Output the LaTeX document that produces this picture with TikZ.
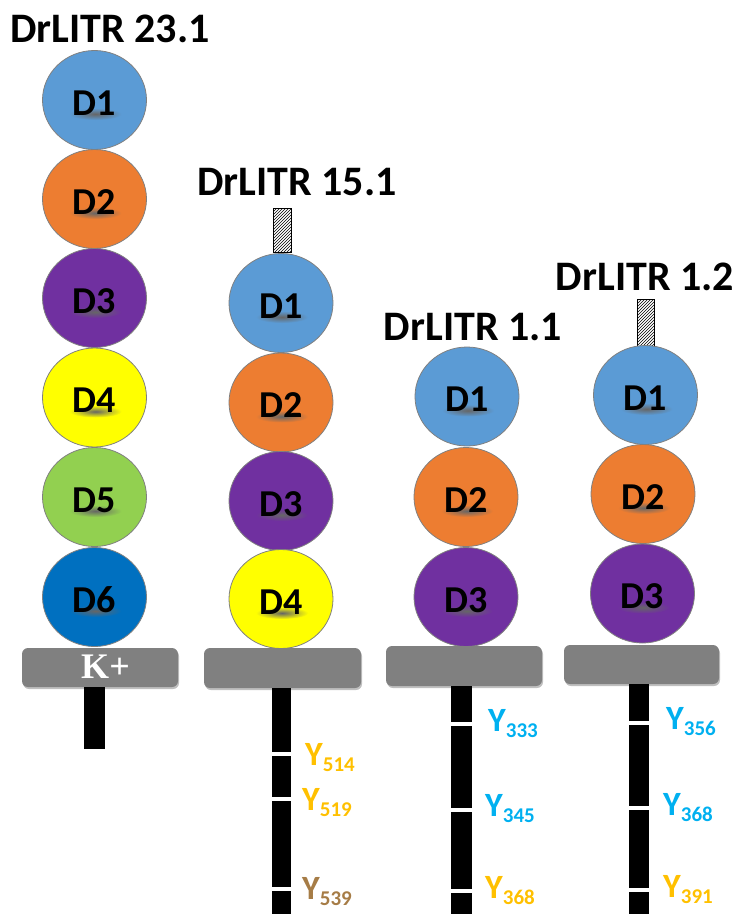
\documentclass[tikz,border=0pt]{standalone}
\usepackage{fontspec}
\setmainfont{Carlito}
\newfontfamily\kfont{Liberation Serif}
\usetikzlibrary{shapes.geometric,patterns,shadows}
\definecolor{cDa}{HTML}{5B9BD5}
\definecolor{cDb}{HTML}{ED7D31}
\definecolor{cDc}{HTML}{7030A0}
\definecolor{cDd}{HTML}{FFFF00}
\definecolor{cDe}{HTML}{92D050}
\definecolor{cDf}{HTML}{0070C0}
\definecolor{memgray}{HTML}{808080}
\definecolor{ylblue}{HTML}{00B0F0}
\definecolor{ylgold}{HTML}{FFC000}
\definecolor{ylbrown}{HTML}{A67C46}
\newcommand{\ylab}[2]{{\fontsize{34}{34}\selectfont Y}{\fontsize{21}{21}\selectfont\raisebox{-6.5pt}{#2}}}
\tikzset{
  dom/.style={ellipse, draw=black!50, line width=0.8pt, minimum width=104pt, minimum height=99pt,
    inner sep=0pt},
  domtext/.style={inner sep=0pt, text depth=0pt, font=\fontsize{38}{38}\selectfont\bfseries},
  ttl/.style={anchor=base, inner sep=0pt, font=\fontsize{42}{42}\selectfont\bfseries},
  membrane/.style={rounded corners=6pt, fill=memgray, inner sep=0pt,
    drop shadow={fill=black, opacity=0.25, shadow xshift=1pt, shadow yshift=-2pt}},
  tailbar/.style={fill=black, inner sep=0pt, anchor=north},
  stubbox/.style={draw=black, line width=0.7pt, pattern=north east lines, inner sep=0pt},
  ylabel/.style={anchor=base west, inner sep=0pt, font=\bfseries},
  gapline/.style={fill=white}
}
\newcommand{\domain}[5]{%
  \node[dom, fill=#4] (#1) at (#2,#3) {};
  \shade[inner color=black!60, outer color=#4] ([xshift=1pt,yshift=-14pt]#1.center) ellipse (26pt and 6pt);
  \node[domtext] (#1t) at ([yshift=-3pt]#1.center) {#5};
}
\begin{document}
\begin{tikzpicture}[x=1pt,y=-1pt]
\useasboundingbox (0,0) rectangle (738,914);
% ---------- DrLITR 23.1 ----------
\node[ttl] (t1) at (110,42) {DrLITR 23.1};
\domain{a1}{94.5}{100}{cDa}{D1}
\domain{a2}{94.5}{199}{cDb}{D2}
\domain{a3}{94.5}{298}{cDc}{D3}
\domain{a4}{94.5}{397.5}{cDd}{D4}
\domain{a5}{94.5}{497}{cDe}{D5}
\domain{a6}{94.5}{597}{cDf}{D6}
\node[membrane, minimum width=156pt, minimum height=39pt] (m1) at (100,667.5) {};
\node[text=white, font=\kfont\bfseries\fontsize{36}{36}\selectfont, inner sep=0pt] (k1) at (105.5,667) {K+};
\node[tailbar, minimum width=21pt, minimum height=62pt] (b1) at (94.5,687) {};
% ---------- DrLITR 15.1 ----------
\node[ttl] (t2) at (297,195) {DrLITR 15.1};
\node[stubbox, minimum width=18pt, minimum height=44pt] (s2) at (282,230) {};
\domain{c1}{281}{303}{cDa}{D1}
\domain{c2}{281}{402.5}{cDb}{D2}
\domain{c3}{281}{501}{cDc}{D3}
\domain{c4}{281}{599}{cDd}{D4}
\node[membrane, minimum width=157pt, minimum height=40pt] (m2) at (282.5,668) {};
\node[tailbar, minimum width=19pt, minimum height=226pt] (b2) at (281.5,688) {};
\fill[gapline] (272,752) rectangle (291,756);
\fill[gapline] (272,797) rectangle (291,801);
\fill[gapline] (272,887) rectangle (291,890.5);
\node[ylabel, text=ylgold] (y21) at (305,765) {\ylab{Y}{514}};
\node[ylabel, text=ylgold] (y22) at (302,810) {\ylab{Y}{519}};
\node[ylabel, text=ylbrown] (y23) at (302,899) {\ylab{Y}{539}};
% ---------- DrLITR 1.1 ----------
\node[ttl] (t3) at (473,340) {DrLITR 1.1};
\domain{e1}{467}{396.5}{cDa}{D1}
\domain{e2}{466}{497}{cDb}{D2}
\domain{e3}{466}{597}{cDc}{D3}
\node[membrane, minimum width=156pt, minimum height=40pt] (m3) at (464,666) {};
\node[tailbar, minimum width=21pt, minimum height=228pt] (b3) at (461.5,686) {};
\fill[gapline] (451,721.5) rectangle (472,725.5);
\fill[gapline] (451,808) rectangle (472,812);
\fill[gapline] (451,889) rectangle (472,893);
\node[ylabel, text=ylblue] (y31) at (488,731) {\ylab{Y}{333}};
\node[ylabel, text=ylblue] (y32) at (485,816) {\ylab{Y}{345}};
\node[ylabel, text=ylgold] (y33) at (485,898) {\ylab{Y}{368}};
% ---------- DrLITR 1.2 ----------
\node[ttl] (t4) at (645,290) {DrLITR 1.2};
\node[stubbox, minimum width=17pt, minimum height=47pt] (s4) at (645.5,322.5) {};
\domain{f1}{645.5}{395}{cDa}{D1}
\domain{f2}{643}{494}{cDb}{D2}
\domain{f3}{642.5}{593.5}{cDc}{D3}
\node[membrane, minimum width=155pt, minimum height=39pt] (m4) at (641.5,664.5) {};
\node[tailbar, minimum width=20pt, minimum height=230pt] (b4) at (639,684) {};
\fill[gapline] (629,721) rectangle (649,725);
\fill[gapline] (629,806) rectangle (649,810);
\fill[gapline] (629,888) rectangle (649,892);
\node[ylabel, text=ylblue] (y41) at (666,729) {\ylab{Y}{356}};
\node[ylabel, text=ylblue] (y42) at (663,815) {\ylab{Y}{368}};
\node[ylabel, text=ylgold] (y43) at (663,897) {\ylab{Y}{391}};
\end{tikzpicture}
\end{document}
